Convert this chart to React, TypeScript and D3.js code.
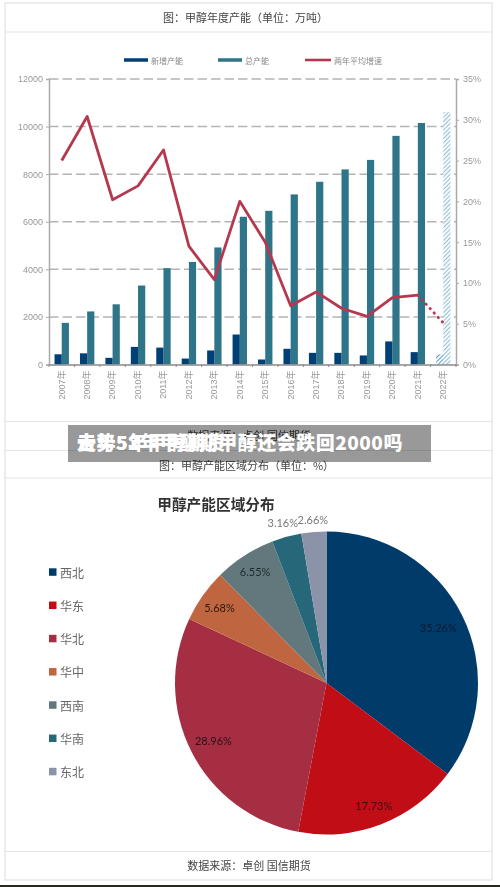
import React, { useEffect, useRef } from 'react';
import * as d3 from 'd3';

const years = ['2007年', '2008年', '2009年', '2010年', '2011年', '2012年', '2013年', '2014年', '2015年', '2016年', '2017年', '2018年', '2019年', '2020年', '2021年', '2022年'];
const newCapacity = [430, 470, 280, 740, 710, 250, 590, 1260, 210, 660, 490, 490, 380, 970, 520, 430];
const totalCapacity = [1750, 2230, 2530, 3320, 4050, 4310, 4920, 6210, 6460, 7150, 7680, 8200, 8600, 9610, 10150, 10610];
const growthRate = [25.0, 30.4, 20.2, 21.9, 26.3, 14.5, 10.4, 20.0, 15.0, 7.2, 8.9, 6.9, 5.9, 8.2, 8.5, 5.1];
const leftTicks = [0, 2000, 4000, 6000, 8000, 10000, 12000];
const rightTicks = [0, 5, 10, 15, 20, 25, 30, 35];
const forecastYear = '2022年';

const regions = ['西北', '华东', '华北', '华中', '西南', '华南', '东北'];
const shares = [35.26, 17.73, 28.96, 5.68, 6.55, 3.16, 2.66];
const regionColors = ['#023a6a', '#c00a16', '#a52f43', '#bf663f', '#62787c', '#28687a', '#8a93a8'];
const labelRadius = [125, 131, 127, 131, 132, 166, 164];
const labelColors = ['#0c1c30', '#3a0a10', '#2a1015', '#2a1a10', '#1f2a2c', '#777', '#777'];

const CJK = '"Noto Sans CJK SC", "Noto Sans", sans-serif';
const NAVY = '#013f75';
const TEAL = '#2e7489';
const RED = '#b5394f';

export default function App() {
  const svgRef = useRef<SVGSVGElement>(null);

  useEffect(() => {
    if (!svgRef.current) return;
    const svg = d3.select(svgRef.current);
    svg.selectAll('*').remove();

    const defs = svg.append('defs');
    defs.append('filter').attr('id', 'soft').append('feGaussianBlur').attr('stdDeviation', 0.35);
    const hatch = (id: string, color: string) => {
      const p = defs.append('pattern').attr('id', id).attr('width', 3).attr('height', 3)
        .attr('patternUnits', 'userSpaceOnUse').attr('patternTransform', 'rotate(45)');
      p.append('rect').attr('width', 3).attr('height', 3).attr('fill', '#f4fafc');
      p.append('line').attr('x1', 0).attr('y1', 0).attr('x2', 0).attr('y2', 3)
        .attr('stroke', color).attr('stroke-width', 1.6);
    };
    hatch('hatchTotal', '#7fb4cc');
    hatch('hatchNew', '#3f7fb5');

    const root = svg.append('g').attr('filter', 'url(#soft)');
    root.append('rect').attr('width', 500).attr('height', 887).attr('fill', '#fff');

    // card frame and rows
    root.append('rect').attr('x', 5).attr('y', 3).attr('width', 487).attr('height', 877)
      .attr('fill', 'none').attr('stroke', '#e8e8e8').attr('stroke-width', 1.5);
    [32, 421.5, 450.5, 478, 851.5].forEach(y => {
      root.append('line').attr('x1', 5).attr('x2', 492).attr('y1', y).attr('y2', y)
        .attr('stroke', '#e4e4e4').attr('stroke-width', 1.2);
    });
    root.append('rect').attr('x', 0).attr('y', 885).attr('width', 500).attr('height', 2).attr('fill', '#2b2a1c');

    const rowText = (text: string, x: number, y: number) =>
      root.append('text').attr('x', x).attr('y', y).attr('text-anchor', 'middle')
        .attr('dominant-baseline', 'central').attr('font-family', CJK).attr('font-size', 11)
        .attr('fill', '#444').text(text);
    rowText('图：甲醇年度产能（单位：万吨）', 245.5, 17);
    rowText('数据来源：卓创 国信期货', 249, 435);
    rowText('图：甲醇产能区域分布（单位：%）', 246.5, 465);
    rowText('数据来源：卓创 国信期货', 249, 865);

    // bar and line chart
    const x = d3.scaleBand<string>().domain(years).range([49, 456]);
    const yLeft = d3.scaleLinear().domain([0, 12000]).range([364.5, 79]);
    const yRight = d3.scaleLinear().domain([0, 35]).range([364.5, 79]);
    const mid = (d: string) => (x(d) as number) + x.bandwidth() / 2;
    const barW = 7.2;

    const grid = root.append('g');
    leftTicks.filter(t => t > 0).forEach(t => {
      grid.append('line').attr('x1', 49).attr('x2', 456).attr('y1', yLeft(t)).attr('y2', yLeft(t))
        .attr('stroke', '#b4b4b4').attr('stroke-width', 1.5).attr('stroke-dasharray', '9.5 4');
    });

    root.append('g').selectAll('rect').data(years).join('rect')
      .attr('x', d => mid(d))
      .attr('width', barW)
      .attr('y', (_, i) => yLeft(totalCapacity[i]))
      .attr('height', (_, i) => yLeft(0) - yLeft(totalCapacity[i]))
      .attr('fill', d => (d === forecastYear ? 'url(#hatchTotal)' : TEAL));
    root.append('g').selectAll('rect').data(years).join('rect')
      .attr('x', d => mid(d) - barW)
      .attr('width', barW)
      .attr('y', (_, i) => yLeft(newCapacity[i]))
      .attr('height', (_, i) => yLeft(0) - yLeft(newCapacity[i]))
      .attr('fill', d => (d === forecastYear ? 'url(#hatchNew)' : NAVY));

    const styleAxis = (g: any, color: string) => {
      g.selectAll('path').attr('stroke', color).attr('stroke-width', 1.5);
      g.selectAll('line').attr('stroke', color).attr('stroke-width', 1);
      g.selectAll('text').attr('fill', '#999').attr('font-size', 9).attr('font-family', '"Liberation Sans", ' + CJK);
    };
    const left = root.append('g').attr('transform', 'translate(49,0)')
      .call(d3.axisLeft(yLeft).tickValues(leftTicks).tickFormat(d3.format('d') as any).tickSize(3).tickPadding(3));
    styleAxis(left, '#aaa');
    const right = root.append('g').attr('transform', 'translate(456,0)')
      .call(d3.axisRight(yRight).tickValues(rightTicks).tickFormat(d => `${d}%`).tickSize(3).tickPadding(4));
    styleAxis(right, '#aaa');
    const bottom = root.append('g').attr('transform', 'translate(0,364.5)')
      .call(d3.axisBottom(x).tickSize(0));
    styleAxis(bottom, '#888');
    bottom.selectAll('text').attr('transform', 'rotate(-90)').attr('text-anchor', 'end')
      .attr('x', -6).attr('y', 0).attr('dy', '0.32em');
    x.domain().concat('').forEach((d, i) => {
      const px = 49 + i * x.step();
      bottom.append('line').attr('x1', px).attr('x2', px).attr('y1', 0).attr('y2', 2.5)
        .attr('stroke', '#888');
    });

    const line = d3.line<number>().x((_, i) => mid(years[i])).y(d => yRight(d));
    const solidCount = years.indexOf(forecastYear);
    root.append('path').attr('d', line(growthRate.slice(0, solidCount)) as string)
      .attr('fill', 'none').attr('stroke', RED).attr('stroke-width', 2.8).attr('stroke-linejoin', 'round');
    const dotted = d3.line<number>().x((_, i) => mid(years[solidCount - 1 + i])).y(d => yRight(d));
    root.append('path').attr('d', dotted(growthRate.slice(solidCount - 1)) as string)
      .attr('fill', 'none').attr('stroke', RED).attr('stroke-width', 2.8)
      .attr('stroke-linecap', 'round').attr('stroke-dasharray', '0.5 5.5');

    // legend of the top chart
    const legendItems = [
      { name: '新增产能', color: NAVY, x0: 124, x1: 148, h: 3.5 },
      { name: '总产能', color: TEAL, x0: 218, x1: 242, h: 3.5 },
      { name: '两年平均增速', color: RED, x0: 305, x1: 331, h: 2.6 },
    ];
    legendItems.forEach(d => {
      root.append('rect').attr('x', d.x0).attr('y', 60 - d.h / 2).attr('width', d.x1 - d.x0).attr('height', d.h).attr('fill', d.color);
      root.append('text').attr('x', d.x1 + 3).attr('y', 60).attr('dominant-baseline', 'central')
        .attr('font-family', CJK).attr('font-size', 8).attr('fill', '#888').text(d.name);
    });

    // pie chart
    root.append('text').attr('x', 216).attr('y', 503).attr('text-anchor', 'middle').attr('dominant-baseline', 'central')
      .attr('font-family', CJK).attr('font-size', 14.7).attr('font-weight', 700).attr('fill', '#333').text('甲醇产能区域分布');

    const pie = d3.pie<number>().sort(null).value(d => d);
    const arcs = pie(shares);
    const arc = d3.arc<d3.PieArcDatum<number>>().innerRadius(0).outerRadius(151.5);
    const pieG = root.append('g').attr('transform', 'translate(326.5,683)');
    pieG.selectAll('path').data(arcs).join('path')
      .attr('d', arc as any).attr('fill', (_, i) => regionColors[i]);
    pieG.selectAll('text').data(arcs).join('text')
      .attr('transform', (d, i) => {
        const [cx, cy] = d3.arc<d3.PieArcDatum<number>>().innerRadius(labelRadius[i]).outerRadius(labelRadius[i]).centroid(d);
        return `translate(${cx},${cy})`;
      })
      .attr('text-anchor', 'middle').attr('dominant-baseline', 'central')
      .attr('font-family', 'Lato, "Open Sans", sans-serif').attr('font-size', 11)
      .attr('fill', (_, i) => labelColors[i])
      .text(d => `${d.data.toFixed(2)}%`);

    const legendY = d3.scalePoint<string>().domain(regions).range([572, 771.5]);
    regions.forEach((r, i) => {
      const y = legendY(r) as number;
      root.append('rect').attr('x', 49).attr('y', y - 3.7).attr('width', 7.5).attr('height', 7.5).attr('fill', regionColors[i]);
      root.append('text').attr('x', 60).attr('y', y).attr('dominant-baseline', 'central')
        .attr('font-family', CJK).attr('font-size', 12).attr('fill', '#666').text(r);
    });

    // headline banner, its two titles print on top of each other
    const top = svg.append('g');
    top.append('rect').attr('x', 68).attr('y', 425).attr('width', 363).attr('height', 37).attr('fill', 'rgba(0,0,0,0.4)');
    ['走势5年甲醇期货', '去年52年甲醇期甲醇还会跌回2000吗'].forEach(t => {
      top.append('text').attr('x', 77).attr('y', 441.5).attr('dominant-baseline', 'central')
        .attr('font-family', CJK).attr('font-size', 19).attr('font-weight', 900)
        .attr('letter-spacing', 0.5).attr('fill', '#fff').text(t);
    });
  }, []);

  return <svg ref={svgRef} width={500} height={887} style={{ position: 'absolute', left: 0, top: 0, display: 'block' }} />;
}
